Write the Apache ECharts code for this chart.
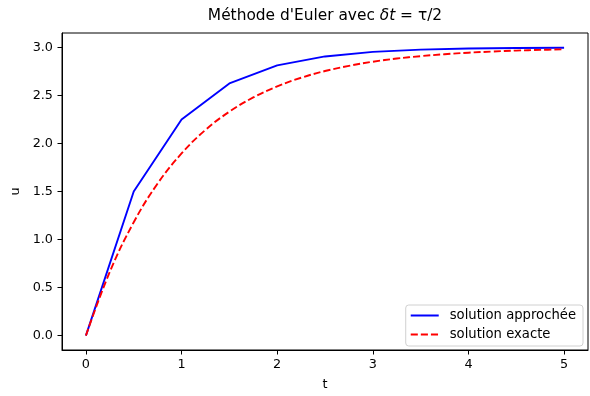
<!DOCTYPE html>
<html>
<head>
<meta charset="utf-8">
<script src="https://cdn.jsdelivr.net/npm/echarts@6/dist/echarts.min.js"></script>
<style>html,body{margin:0;padding:0;background:#fff}#c{width:590px;height:396px}</style>
</head>
<body>
<div id="c"></div>
<script>
// Approximate (Euler) solution, step 0.5
var tEuler = [0, 0.5, 1, 1.5, 2, 2.5, 3, 3.5, 4, 4.5, 5];
var uEuler = [0, 1.5, 2.25, 2.625, 2.8125, 2.906, 2.953, 2.977, 2.988, 2.994, 2.997];
// Exact solution
var tExact = [0, 0.25, 0.5, 0.75, 1, 1.25, 1.5, 1.75, 2, 2.25, 2.5, 2.75, 3, 3.25, 3.5, 3.75, 4, 4.25, 4.5, 4.75, 5];
var uExact = [0, 0.664, 1.180, 1.583, 1.896, 2.141, 2.331, 2.479, 2.594, 2.684, 2.754, 2.808, 2.851, 2.884, 2.909, 2.929, 2.945, 2.957, 2.967, 2.974, 2.980];
var xTicks = [0, 1, 2, 3, 4, 5];
var yTicks = [0, 0.5, 1, 1.5, 2, 2.5, 3];
var seriesNames = ['solution approchée', 'solution exacte'];

function pairs(xs, ys) { return xs.map(function (x, i) { return [x, ys[i]]; }); }

var FONT = 'DejaVu Sans';
var FS = 12.8;
var chart = echarts.init(document.getElementById('c'), null, {renderer: 'canvas'});
chart.setOption({
  animation: false,
  textStyle: {fontFamily: FONT},
  title: {
    text: "{n|Méthode d'Euler avec }{i|δt}{n| = τ/2}",
    left: 325, top: 8, textAlign: 'center', padding: 0,
    textStyle: {
      rich: {
        n: {fontFamily: FONT, fontSize: 15.4, color: '#000', fontWeight: 'normal'},
        i: {fontFamily: FONT, fontSize: 15.4, color: '#000', fontStyle: 'italic', fontWeight: 'normal'}
      }
    }
  },
  grid: {left: 62, right: 2, top: 33, bottom: 43, show: true, borderColor: '#000', borderWidth: 1, containLabel: false},
  legend: {
    orient: 'vertical', right: 7, bottom: 50,
    data: seriesNames,
    itemWidth: 28, itemHeight: 14, itemGap: 6,
    padding: [4, 7, 5, 4],
    backgroundColor: 'rgba(255,255,255,0.8)',
    borderColor: '#d0d0d0', borderWidth: 1, borderRadius: 3,
    itemStyle: {color: 'rgba(0,0,0,0)', borderWidth: 0, opacity: 0},
    textStyle: {fontFamily: FONT, fontSize: 13.2, color: '#000', padding: [0, 0, 0, 6]}
  },
  xAxis: {
    type: 'value', min: -0.25, max: 5.25,
    name: 't', nameLocation: 'middle', nameGap: 28,
    nameTextStyle: {fontFamily: FONT, fontSize: FS, color: '#000'},
    axisLine: {show: true, onZero: false, lineStyle: {color: '#000', width: 1}},
    axisTick: {show: true, inside: false, length: 4.5, lineStyle: {color: '#000', width: 1}, customValues: xTicks},
    axisLabel: {customValues: xTicks, margin: 8, fontFamily: FONT, fontSize: FS, color: '#000', formatter: function (v) { return String(v); }},
    splitLine: {show: false}
  },
  yAxis: {
    type: 'value', min: -0.15, max: 3.15,
    name: 'u', nameLocation: 'middle', nameGap: 33,
    nameTextStyle: {fontFamily: FONT, fontSize: FS, color: '#000'},
    axisLine: {show: true, onZero: false, lineStyle: {color: '#000', width: 1}},
    axisTick: {show: true, inside: false, length: 4.5, lineStyle: {color: '#000', width: 1}, customValues: yTicks},
    axisLabel: {customValues: yTicks, margin: 9, fontFamily: FONT, fontSize: FS, color: '#000', formatter: function (v) { return v.toFixed(1); }},
    splitLine: {show: false}
  },
  series: [
    {
      name: seriesNames[0], type: 'line', data: pairs(tEuler, uEuler),
      symbol: 'none', lineStyle: {color: '#0000ff', width: 1.9}, itemStyle: {color: '#0000ff'}, z: 3
    },
    {
      name: seriesNames[1], type: 'line', data: pairs(tExact, uExact),
      symbol: 'none', smooth: 0.4,
      lineStyle: {color: '#ff0000', width: 1.9, type: [7.1, 3.0]}, itemStyle: {color: '#ff0000'}, z: 4
    }
  ]
});
</script>
</body>
</html>
